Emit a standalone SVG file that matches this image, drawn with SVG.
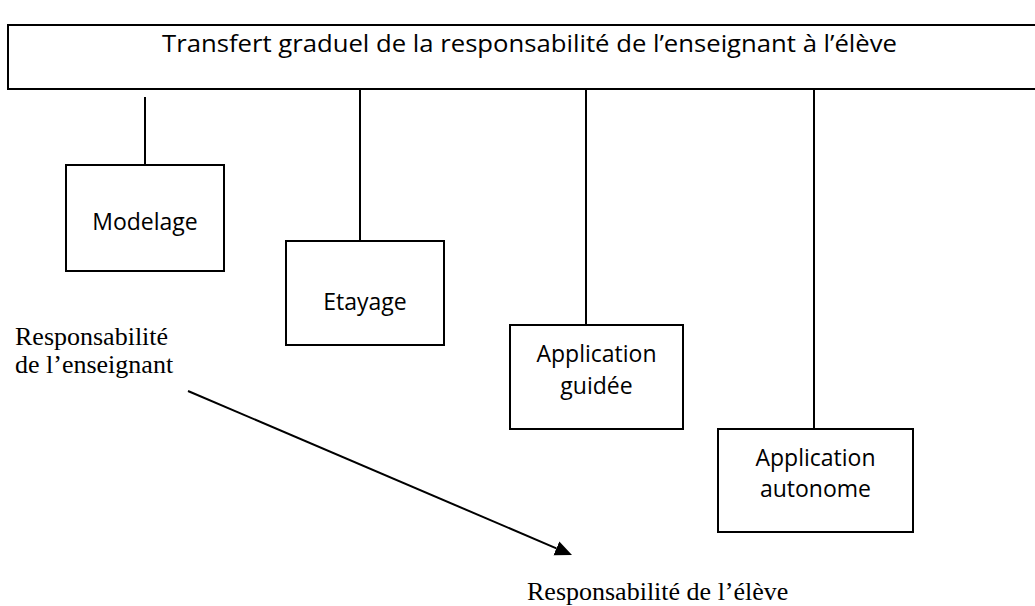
<svg xmlns="http://www.w3.org/2000/svg" width="1035" height="606" viewBox="0 0 1035 606">
  <style>
    .box { fill: #ffffff; stroke: #000000; stroke-width: 2; }
    .link { stroke: #000000; stroke-width: 2; fill: none; }
    .sans { font-family: "Open Sans", "Liberation Sans", sans-serif; font-size: 23px; fill: #000000; }
    .serif { font-family: "Liberation Serif", "Times New Roman", serif; font-size: 26px; fill: #000000; }
  </style>
  <defs>
    <marker id="arrow" markerUnits="userSpaceOnUse" markerWidth="18" markerHeight="16" refX="0" refY="7.5" orient="auto" viewBox="0 0 18 16">
      <path d="M0,0 L17,7.5 L0,15 z" fill="#000000"/>
    </marker>
  </defs>
  <rect width="1035" height="606" fill="#ffffff"/>

  <g id="connectors">
    <line class="link" x1="145" y1="97" x2="145" y2="165"/>
    <line class="link" x1="360" y1="89" x2="360" y2="241"/>
    <line class="link" x1="586" y1="83" x2="586" y2="325"/>
    <line class="link" x1="814" y1="89" x2="814" y2="429"/>
    <line class="link" x1="188" y1="391" x2="556.4" y2="548.3" marker-end="url(#arrow)"/>
  </g>

  <g id="title">
    <rect class="box" x="8" y="25" width="1040" height="64"/>
    <text class="sans" x="162" y="52" textLength="735" lengthAdjust="spacingAndGlyphs">Transfert graduel de la responsabilité de l’enseignant à l’élève</text>
  </g>

  <g id="modelage">
    <rect class="box" x="66" y="165" width="158" height="106"/>
    <text class="sans" x="145" y="230" text-anchor="middle">Modelage</text>
  </g>

  <g id="etayage">
    <rect class="box" x="286" y="241" width="158" height="104"/>
    <text class="sans" x="365" y="310" text-anchor="middle">Etayage</text>
  </g>

  <g id="application-guidee">
    <rect class="box" x="510" y="325" width="173" height="104"/>
    <text class="sans" x="596.5" y="362" text-anchor="middle">Application</text>
    <text class="sans" x="596.5" y="394" text-anchor="middle">guidée</text>
  </g>

  <g id="application-autonome">
    <rect class="box" x="718" y="429" width="195" height="103"/>
    <text class="sans" x="815.5" y="466" text-anchor="middle">Application</text>
    <text class="sans" x="815.5" y="497" text-anchor="middle">autonome</text>
  </g>

  <g id="label-enseignant">
    <text class="serif" x="15" y="345">Responsabilité</text>
    <text class="serif" x="15" y="373">de l’enseignant</text>
  </g>

  <g id="label-eleve">
    <text class="serif" x="527" y="600">Responsabilité de l’élève</text>
  </g>
</svg>
